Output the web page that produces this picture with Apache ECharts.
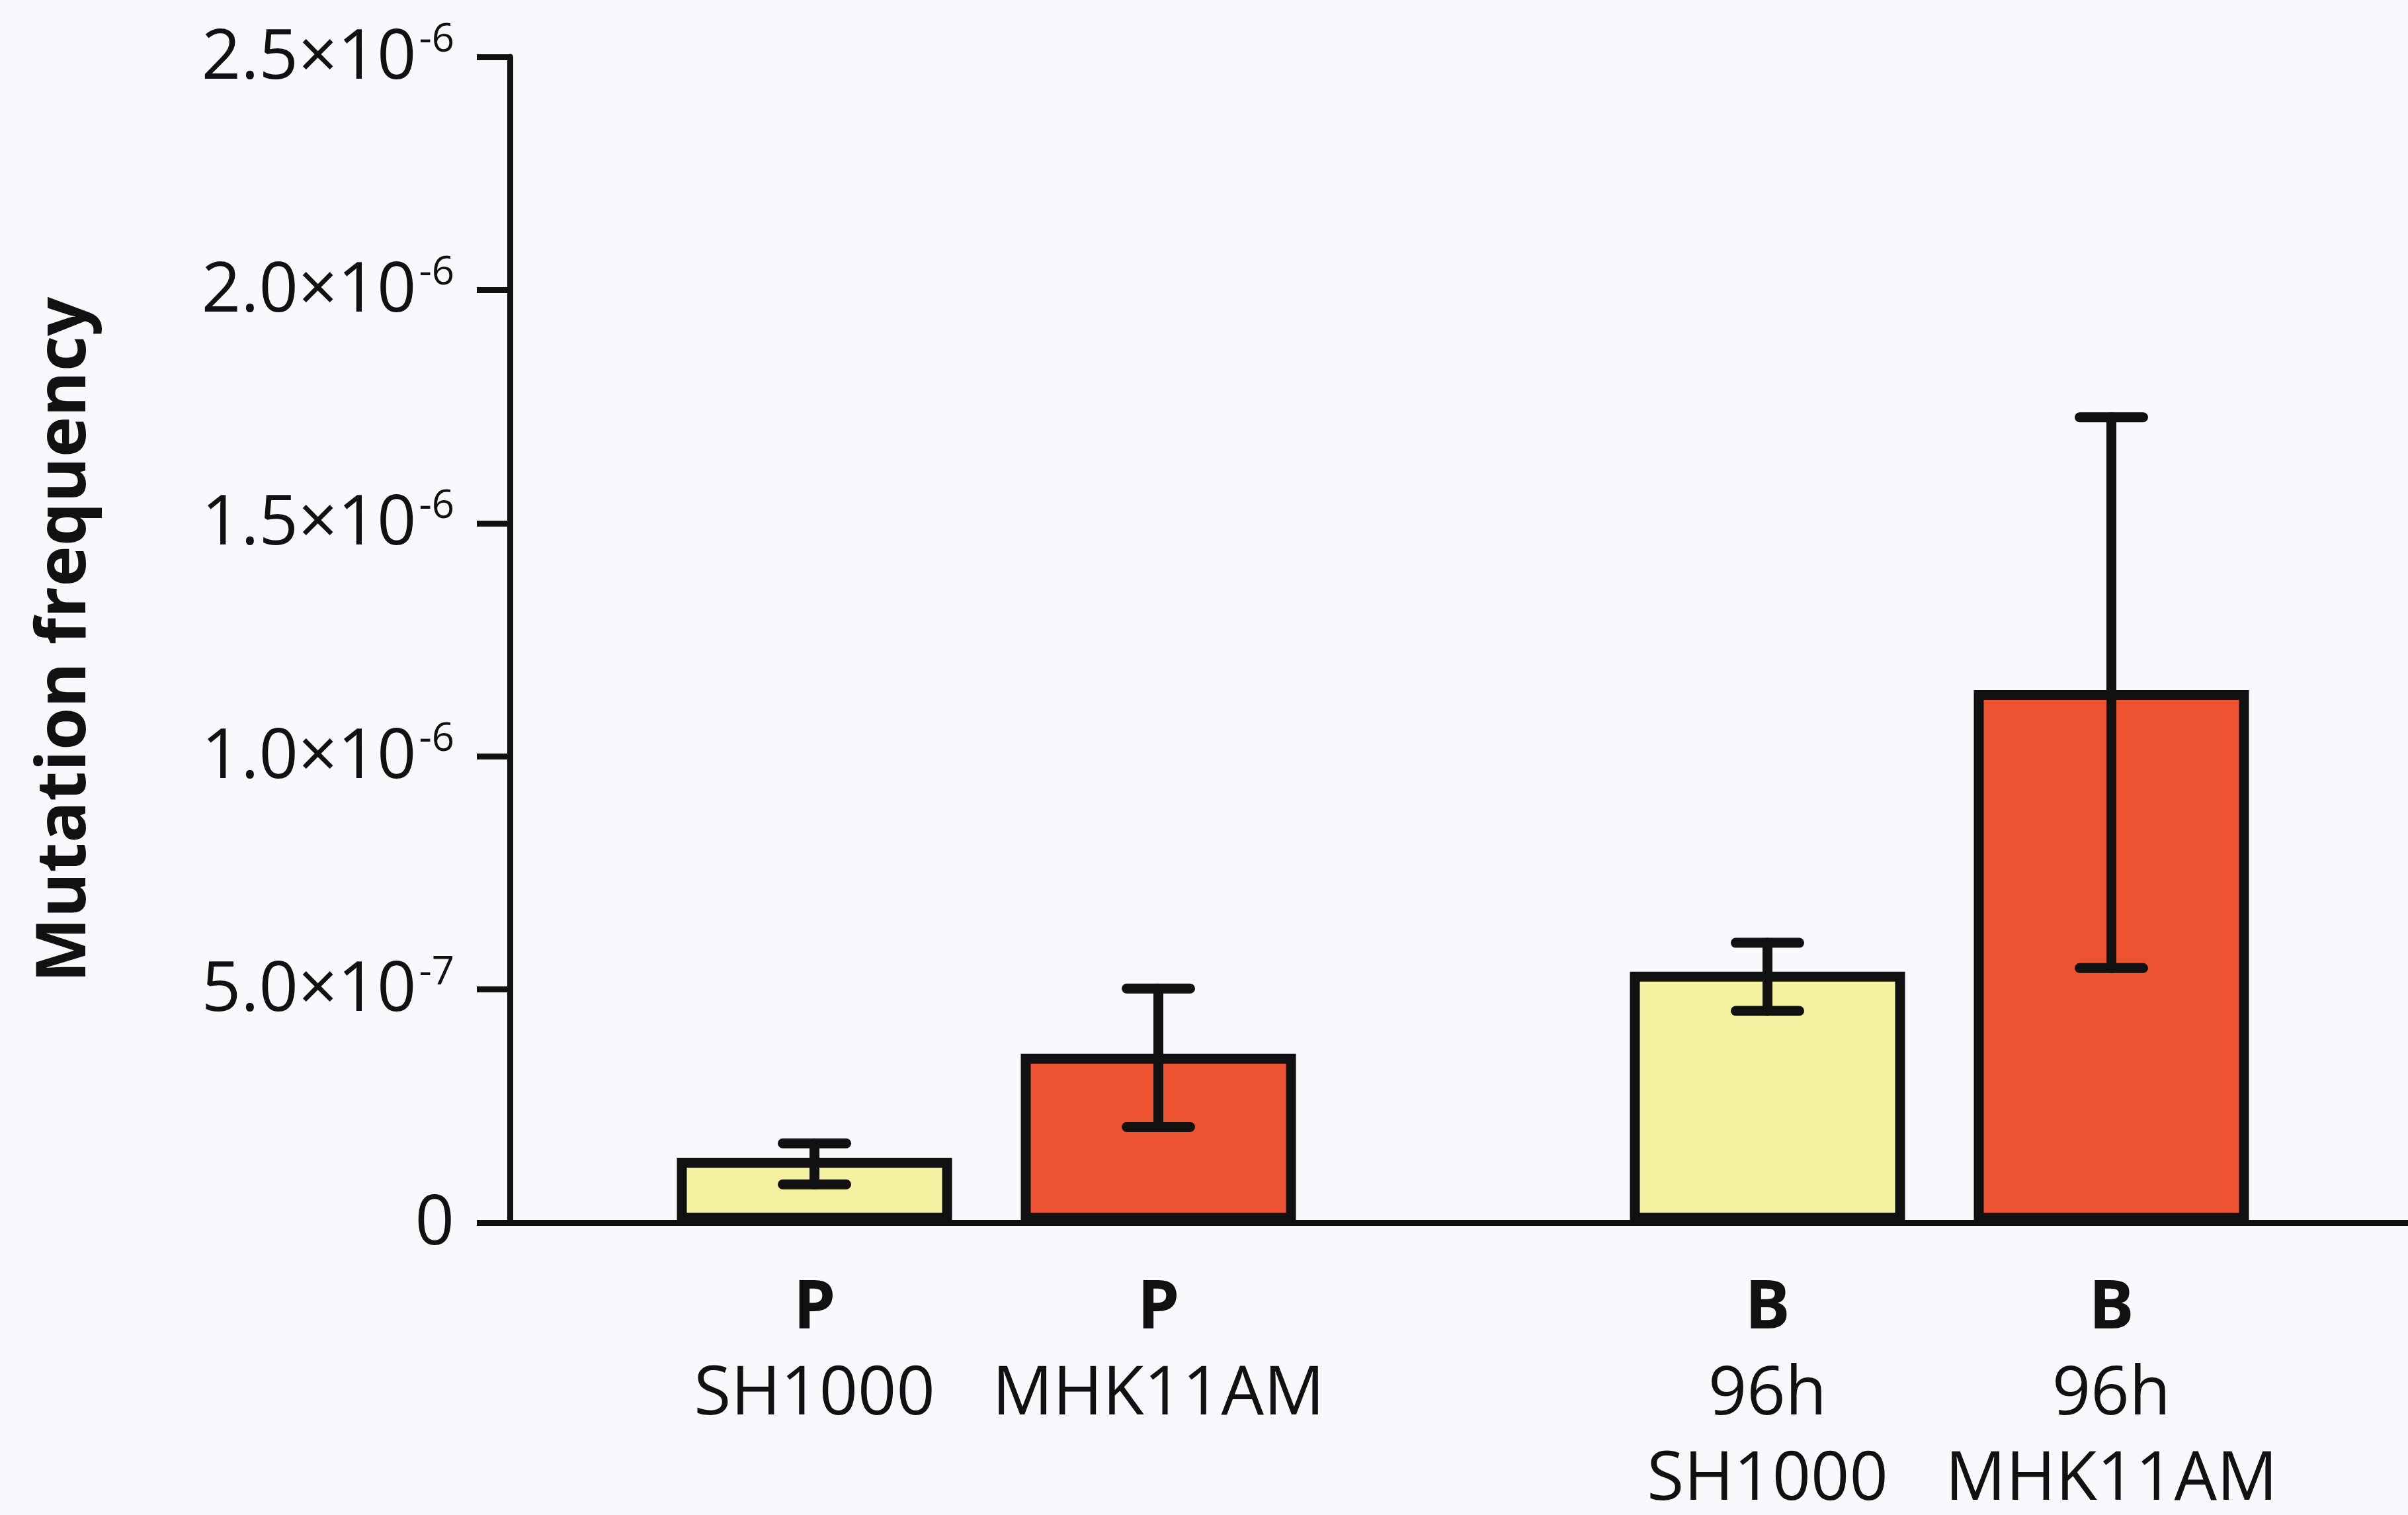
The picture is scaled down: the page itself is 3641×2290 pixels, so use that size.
<!DOCTYPE html>
<html>
<head>
<meta charset="utf-8">
<script src="https://cdn.jsdelivr.net/npm/echarts@6/dist/echarts.min.js"></script>
<style>
html,body{margin:0;padding:0;background:#f7f9fd;overflow:hidden;}
#c{width:3653px;height:2290px;}
</style>
</head>
<body>
<div id="c"></div>
<script>
// ---- data ----
const groups = ['P', 'B'];
const timeLabels = ['', '96h'];
const strains = ['SH1000', 'MHK11AM'];
const sh1000Mean = [1.39e-7, 5.38e-7];
const sh1000Low = [0.82e-7, 4.54e-7];
const sh1000High = [1.70e-7, 6.00e-7];
const mhkMean = [3.62e-7, 11.42e-7];
const mhkLow = [2.05e-7, 5.46e-7];
const mhkHigh = [5.02e-7, 17.27e-7];
const yTitle = 'Mutation frequency';

// ---- styling ----
const FONT = 'Open Sans';
const INK = '#111111';
const YELLOW = '#f4f1a1';
const RED = '#ee5331';
const BAR_W = 416;
const BAR_GAP_PX = 104;
const OFFSET = (BAR_W + BAR_GAP_PX) / 2;

function barLabel(strainIdx) {
  return function (p) {
    const g = groups[p.dataIndex];
    const t = timeLabels[p.dataIndex];
    return '{g|' + g + '}\n' + (t ? '{n|' + t + '}\n' : '') + '{n|' + strains[strainIdx] + '}';
  };
}

const labelRich = {
  g: { fontFamily: FONT, fontWeight: 'bold', fontSize: 102, lineHeight: 130, color: INK },
  n: { fontFamily: FONT, fontSize: 102, lineHeight: 129, color: INK }
};

function barSeries(name, means, color, idx) {
  return {
    name: name,
    type: 'bar',
    data: means,
    barWidth: BAR_W,
    barGap: (BAR_GAP_PX / BAR_W * 100).toFixed(1) + '%',
    itemStyle: { color: color, borderColor: INK, borderWidth: 15 },
    label: {
      show: true,
      position: 'bottom',
      distance: 66,
      formatter: barLabel(idx),
      rich: labelRich
    },
    z: 2
  };
}

function errSeries(lows, highs, side) {
  return {
    type: 'custom',
    z: 5,
    encode: { x: 0, y: [1, 2] },
    data: lows.map((l, i) => [i, l, highs[i]]),
    renderItem: function (params, api) {
      const i = api.value(0);
      const lo = api.coord([i, api.value(1)]);
      const hi = api.coord([i, api.value(2)]);
      const x = lo[0] + side * OFFSET;
      const hw = 48;
      const style = { stroke: INK, lineWidth: 15, lineCap: 'round', fill: null };
      return {
        type: 'group',
        children: [
          { type: 'line', shape: { x1: x, y1: lo[1], x2: x, y2: hi[1] }, style: style },
          { type: 'line', shape: { x1: x - hw, y1: hi[1], x2: x + hw, y2: hi[1] }, style: style },
          { type: 'line', shape: { x1: x - hw, y1: lo[1], x2: x + hw, y2: lo[1] }, style: style }
        ]
      };
    }
  };
}

function yFmt(v) {
  if (Math.abs(v) < 1e-15) return '{m|0}';
  const e = Math.floor(Math.log10(v) + 1e-9);
  const m = (v / Math.pow(10, e)).toFixed(1);
  return '{m|' + m + '×10}{s|' + e + '}';
}

const chart = echarts.init(document.getElementById('c'), null, { renderer: 'canvas' });
chart.setOption({
  backgroundColor: '#f7f9fd',
  animation: false,
  grid: { left: 771, right: 0, top: 86, bottom: 442, containLabel: false },
  xAxis: {
    type: 'category',
    data: groups,
    axisLine: { show: true, lineStyle: { color: INK, width: 9 } },
    axisTick: { show: false },
    axisLabel: { show: false },
    splitLine: { show: false }
  },
  yAxis: {
    type: 'value',
    min: 0,
    max: 2.5e-6,
    interval: 0.5e-6,
    splitLine: { show: false },
    axisLine: { show: true, lineStyle: { color: INK, width: 9 } },
    axisTick: { show: true, length: 50, lineStyle: { color: INK, width: 9 } },
    axisLabel: {
      margin: 84,
      formatter: yFmt,
      rich: {
        m: { fontFamily: FONT, fontSize: 104, lineHeight: 110, color: INK, verticalAlign: 'bottom' },
        s: { fontFamily: FONT, fontSize: 60, lineHeight: 60, color: INK, verticalAlign: 'top', padding: [0, 0, 0, 4] }
      }
    },
    name: yTitle,
    nameLocation: 'middle',
    nameGap: 620,
    nameRotate: 90,
    nameTextStyle: { fontFamily: FONT, fontWeight: 'bold', fontSize: 104, color: INK }
  },
  series: [
    barSeries(strains[0], sh1000Mean, YELLOW, 0),
    barSeries(strains[1], mhkMean, RED, 1),
    errSeries(sh1000Low, sh1000High, -1),
    errSeries(mhkLow, mhkHigh, 1)
  ]
});
</script>
</body>
</html>
